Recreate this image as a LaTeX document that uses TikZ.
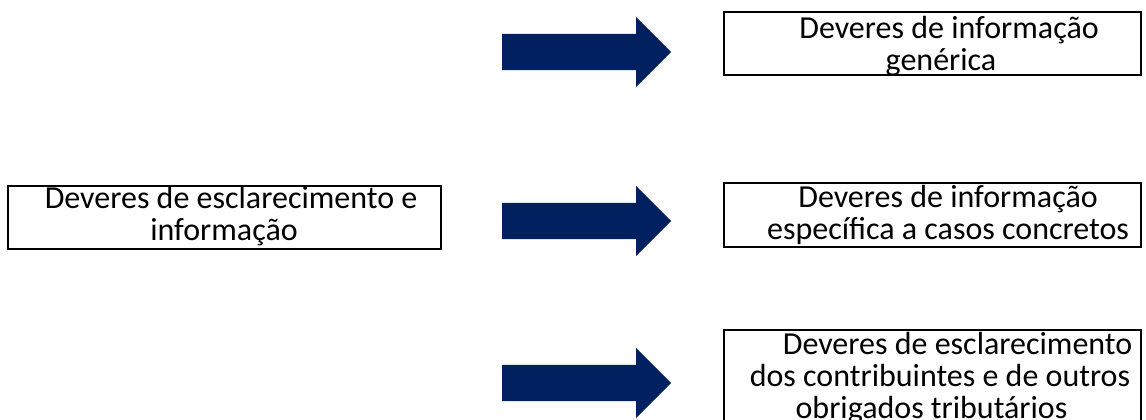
\documentclass[tikz,border=0pt]{standalone}
\usepackage{fontspec}
\setmainfont{Carlito}
\usetikzlibrary{shapes.arrows}
\definecolor{navy}{HTML}{002060}
\tikzset{
  box/.style={draw=black, line width=1.3pt},
  label/.style={font=\fontsize{32}{30}\selectfont, align=center, inner sep=0pt, anchor=center},
  blockarrow/.style={single arrow, fill=navy, draw=none, inner sep=0pt, inner ysep=18pt,
    minimum height=169pt, minimum width=70pt, single arrow head extend=17pt,
    single arrow tip angle=90, single arrow head indent=0pt, anchor=west},
}
\begin{document}
\begin{tikzpicture}[x=1pt,y=-1pt]
\useasboundingbox (0,0) rectangle (1146,420);
\clip (0,0) rectangle (1146,420);
% boxes
\draw[box] (8,186) rectangle (441,249);
\draw[box] (724,12) rectangle (1141,75);
\draw[box] (724,183) rectangle (1141,247);
\draw[box] (724,330) rectangle (1141,440);
% texts
\node[label] (t0) at (224,218) {\hspace*{14pt}Deveres de esclarecimento e\strut\\informação\strut};
\node[label] (t1) at (941,48) {\hspace*{16pt}Deveres de informação\strut\\genérica\strut};
\node[label] (t2) at (948,217) {Deveres de informação\strut\\específica a casos concretos\strut};
\node[label] (t3) at (940,380) {\hspace*{35pt}Deveres de esclarecimento\strut\\dos contribuintes e de outros\strut\\obrigados tributários\hspace*{17pt}\strut};
% arrows
\node[blockarrow] (a1) at (502,52) {};
\node[blockarrow] (a2) at (502,221) {};
\node[blockarrow] (a3) at (502,383) {};
\end{tikzpicture}
\end{document}
